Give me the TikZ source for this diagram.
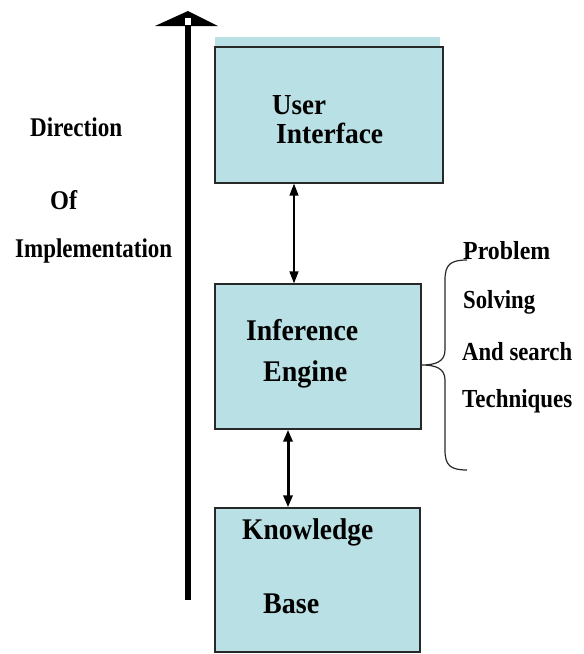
\documentclass[tikz,border=0pt]{standalone}
\usepackage{fontspec}
\usepackage{graphicx}
\usetikzlibrary{arrows.meta,calc}
\newfontfamily\lab{Liberation Serif Bold}
\definecolor{boxfill}{RGB}{185,224,228}
\definecolor{boxedge}{RGB}{40,40,40}
% set a label to a given width, keeping its height
\newcommand\fitw[2]{\resizebox{#1pt}{\height}{#2}}
\begin{document}
\begin{tikzpicture}[x=1pt,y=-1pt,
  layer/.style={draw=boxedge, line width=1.3pt, fill=boxfill, inner sep=0pt},
  lbl/.style={font=\lab\fontsize{#1}{#1}\selectfont, inner sep=0pt, anchor=base west},
  lbl/.default=30,
  link/.style={line width=#1, {Triangle[length=12pt,width=9pt]}-{Triangle[length=12pt,width=9pt]}},
  brace/.style={draw=boxedge, line width=1.2pt}]
\useasboundingbox (0,0) rectangle (584,654);

% light strip above the top layer
\fill[boxfill] (215,37) rectangle (440,47);

% the three layers
\node[layer, minimum width=228pt, minimum height=136pt] (ui) at (329,115) {};
\node[layer, minimum width=206pt, minimum height=145pt] (ie) at (318,356.5) {};
\node[layer, minimum width=205pt, minimum height=144pt] (kb) at (317.5,580) {};

% layer labels
\node[lbl, font=\lab\fontsize{29}{29}\selectfont] (ui1) at (272,114) {\fitw{54}{User}};
\node[lbl, font=\lab\fontsize{29}{29}\selectfont] (ui2) at (276,143) {\fitw{107}{Interface}};
\node[lbl] (ie1) at (246,340) {\fitw{112}{Inference}};
\node[lbl] (ie2) at (263,381) {\fitw{84}{Engine}};
\node[lbl] (kb1) at (242,539) {\fitw{131}{Knowledge}};
\node[lbl] (kb2) at (263,613) {\fitw{56}{Base}};

% links between layers
\coordinate (xa) at (294,0);
\coordinate (xb) at (288,0);
\draw[link=1.4pt] (ui.south -| xa) -- (ie.north -| xa);
\draw[link=3pt] (ie.south -| xb) -- (kb.north -| xb);

% direction of implementation arrow
\coordinate (tail) at (188,600);
\coordinate (tip) at (188,11);
\draw[line width=6pt] (tail) -- ($(tip)+(0,12)$);
\fill (tip) -- (218,26) -- (155,26) -- cycle;
\fill[white] (185,18) rectangle (191,25);

\node[lbl=27] (d1) at (30,136) {\fitw{92}{Direction}};
\node[lbl=27] (d2) at (50,209) {\fitw{27}{Of}};
\node[lbl=27] (d3) at (15,257) {\fitw{157}{Implementation}};

% brace grouping the engine techniques
\coordinate (btop) at (467,260);
\coordinate (bbot) at (467,470);
\draw[brace] (btop) .. controls (450,260) and (445,265) .. (445,280)
  -- (445,350) .. controls (445,362) and (435,365) .. (ie.east |- 0,365)
  .. controls (435,365) and (445,368) .. (445,380)
  -- (445,450) .. controls (445,465) and (450,470) .. (bbot);

\node[lbl=26] (p1) at (463,259) {\fitw{87}{Problem}};
\node[lbl=26] (p2) at (463,308) {\fitw{72}{Solving}};
\node[lbl=26] (p3) at (462,360) {\fitw{110}{And search}};
\node[lbl=26] (p4) at (462,407) {\fitw{110}{Techniques}};
\end{tikzpicture}
\end{document}
